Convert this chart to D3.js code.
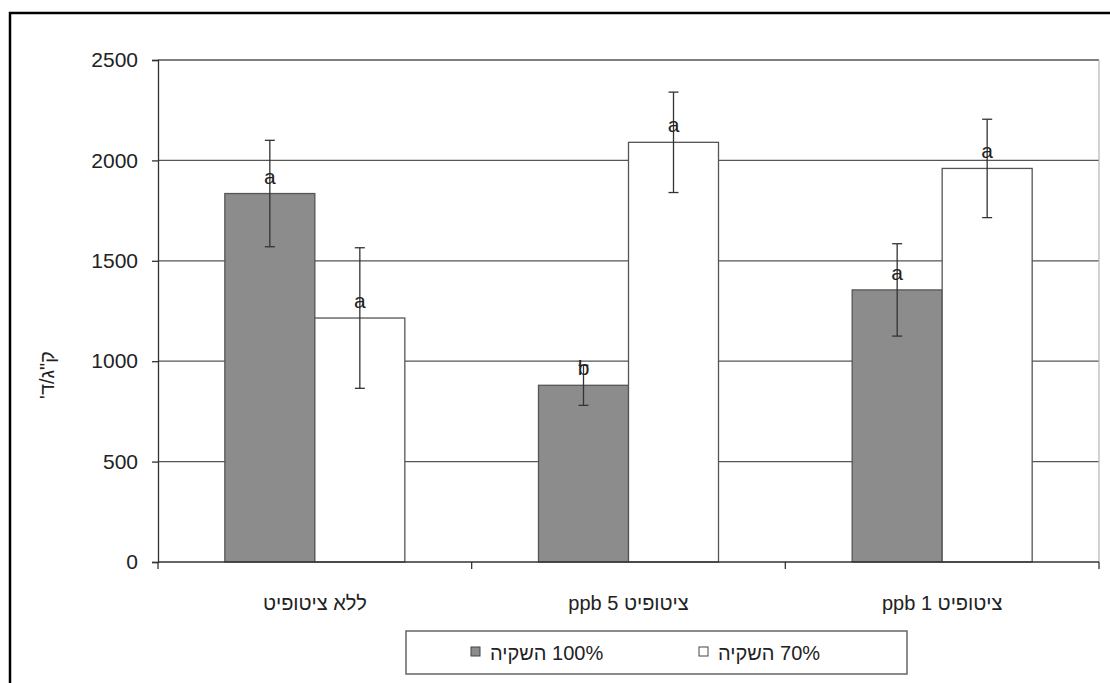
<!DOCTYPE html>
<html>
<head>
<meta charset="utf-8">
<script src="https://cdn.jsdelivr.net/npm/d3@7"></script>
<style>
  body { margin: 0; background: #fff; }
  text { font-family: "Liberation Sans", Arial, sans-serif; fill: #222; }
</style>
</head>
<body>
<script>
// data
var categories = ["ללא ציטופיט", "ציטופיט 5 ppb", "ציטופיט 1 ppb"];
var seriesNames = ["100% השקיה", "70% השקיה"];
var irrigation100 = [1835, 880, 1355];
var irrigation70 = [1215, 2090, 1960];
var err100 = [265, 100, 230];
var err70 = [350, 250, 245];
var letters100 = ["a", "b", "a"];
var letters70 = ["a", "a", "a"];
var yTicks = [0, 500, 1000, 1500, 2000, 2500];
var yTitle = "ק\"ג/ד'";

var w = 1110, h = 683;
var plotLeft = 158, plotRight = 1099, plotTop = 60, plotBottom = 562;
var colors = ["#8c8c8c", "#ffffff"];

var svg = d3.select("body").append("svg")
  .attr("width", w)
  .attr("height", h);

// outer frame (right/bottom edges fall outside the picture)
svg.append("rect")
  .attr("x", 10).attr("y", 13)
  .attr("width", 1120).attr("height", 700)
  .attr("fill", "none")
  .attr("stroke", "#000")
  .attr("stroke-width", 2.5);

var x0 = d3.scaleBand().domain(categories).range([plotLeft, plotRight]);
// each bar 90px wide, the pair centred in its category
var barW = 90;
function barX(ci, si) {
  return x0(categories[ci]) + x0.bandwidth() / 2 - barW + si * barW;
}
var y = d3.scaleLinear().domain([0, 2500]).range([plotBottom, plotTop]);

// gridlines
svg.selectAll("line.grid")
  .data(yTicks.slice(1))
  .enter().append("line")
  .attr("class", "grid")
  .attr("x1", plotLeft).attr("x2", plotRight)
  .attr("y1", function(d) { return y(d); })
  .attr("y2", function(d) { return y(d); })
  .attr("stroke", "#555")
  .attr("stroke-width", 1.3);

// plot area right border
svg.append("line")
  .attr("x1", plotRight).attr("x2", plotRight)
  .attr("y1", plotTop).attr("y2", plotBottom)
  .attr("stroke", "#bbb").attr("stroke-width", 1.3);

// bars
var series = [irrigation100, irrigation70];
var errs = [err100, err70];
var letters = [letters100, letters70];
var bars = [];
series.forEach(function(vals, si) {
  vals.forEach(function(v, ci) {
    bars.push({ si: si, ci: ci, v: v, e: errs[si][ci], l: letters[si][ci] });
  });
});

svg.selectAll("rect.bar")
  .data(bars)
  .enter().append("rect")
  .attr("class", "bar")
  .attr("x", function(d) { return barX(d.ci, d.si); })
  .attr("y", function(d) { return y(d.v); })
  .attr("width", barW)
  .attr("height", function(d) { return y(0) - y(d.v); })
  .attr("fill", function(d) { return colors[d.si]; })
  .attr("stroke", "#555")
  .attr("stroke-width", 1.3);

// error bars
var eb = svg.selectAll("g.err")
  .data(bars)
  .enter().append("g")
  .attr("class", "err")
  .attr("transform", function(d) { return "translate(" + (barX(d.ci, d.si) + barW / 2) + ",0)"; });
eb.append("line")
  .attr("y1", function(d) { return y(d.v + d.e); })
  .attr("y2", function(d) { return y(d.v - d.e); })
  .attr("stroke", "#333").attr("stroke-width", 1.3);
eb.append("line")
  .attr("x1", -5).attr("x2", 5)
  .attr("y1", function(d) { return y(d.v + d.e); })
  .attr("y2", function(d) { return y(d.v + d.e); })
  .attr("stroke", "#333").attr("stroke-width", 1.3);
eb.append("line")
  .attr("x1", -5).attr("x2", 5)
  .attr("y1", function(d) { return y(d.v - d.e); })
  .attr("y2", function(d) { return y(d.v - d.e); })
  .attr("stroke", "#333").attr("stroke-width", 1.3);
eb.append("text")
  .text(function(d) { return d.l; })
  .attr("y", function(d) { return y(d.v) - 10; })
  .attr("text-anchor", "middle")
  .attr("font-size", "21px");

// y axis
var yAxis = d3.axisLeft(y).tickValues(yTicks).tickFormat(d3.format("d")).tickSize(6).tickPadding(14);
var gy = svg.append("g")
  .attr("transform", "translate(" + plotLeft + ",0)")
  .call(yAxis);
gy.select(".domain").attr("stroke", "#333").attr("stroke-width", 1.3);
gy.selectAll(".tick line").attr("stroke", "#333").attr("stroke-width", 1.3);
gy.selectAll(".tick text")
  .attr("font-size", "21px")
  .attr("font-family", "Liberation Sans, Arial, sans-serif")
  .attr("fill", "#222");

// x axis with ticks between categories
var gx = svg.append("g")
  .attr("transform", "translate(0," + plotBottom + ")");
gx.append("line")
  .attr("x1", plotLeft).attr("x2", plotRight)
  .attr("stroke", "#333").attr("stroke-width", 1.3);
var bounds = categories.map(function(c) { return x0(c); }).concat([plotRight]);
gx.selectAll("line.tk")
  .data(bounds)
  .enter().append("line")
  .attr("class", "tk")
  .attr("x1", function(d) { return d; })
  .attr("x2", function(d) { return d; })
  .attr("y1", 0).attr("y2", 7)
  .attr("stroke", "#333").attr("stroke-width", 1.3);
gx.selectAll("text.cat")
  .data(categories)
  .enter().append("text")
  .attr("class", "cat")
  .text(function(d) { return d; })
  .attr("x", function(d) { return x0(d) + x0.bandwidth() / 2; })
  .attr("y", 48)
  .attr("direction", "rtl")
  .attr("text-anchor", "middle")
  .attr("font-size", "20px");

// y title
svg.append("text")
  .text(yTitle)
  .attr("transform", "translate(54,375) rotate(-90)")
  .attr("direction", "rtl")
  .attr("text-anchor", "middle")
  .attr("font-size", "20px");

// legend
var lg = svg.append("g");
lg.append("rect")
  .attr("x", 406).attr("y", 631)
  .attr("width", 501).attr("height", 43)
  .attr("fill", "#fff")
  .attr("stroke", "#666").attr("stroke-width", 1.5);
var legX = [[480, 490], [708, 718]];
seriesNames.forEach(function(name, i) {
  lg.append("rect")
    .attr("x", legX[i][0] - 9).attr("y", 647)
    .attr("width", 9).attr("height", 9)
    .attr("fill", colors[i])
    .attr("stroke", "#444").attr("stroke-width", 1);
  lg.append("text")
    .text(name)
    .attr("x", legX[i][1])
    .attr("y", 660)
    .attr("direction", "rtl")
    .attr("text-anchor", "end")
    .attr("font-size", "20px");
});
</script>
</body>
</html>
